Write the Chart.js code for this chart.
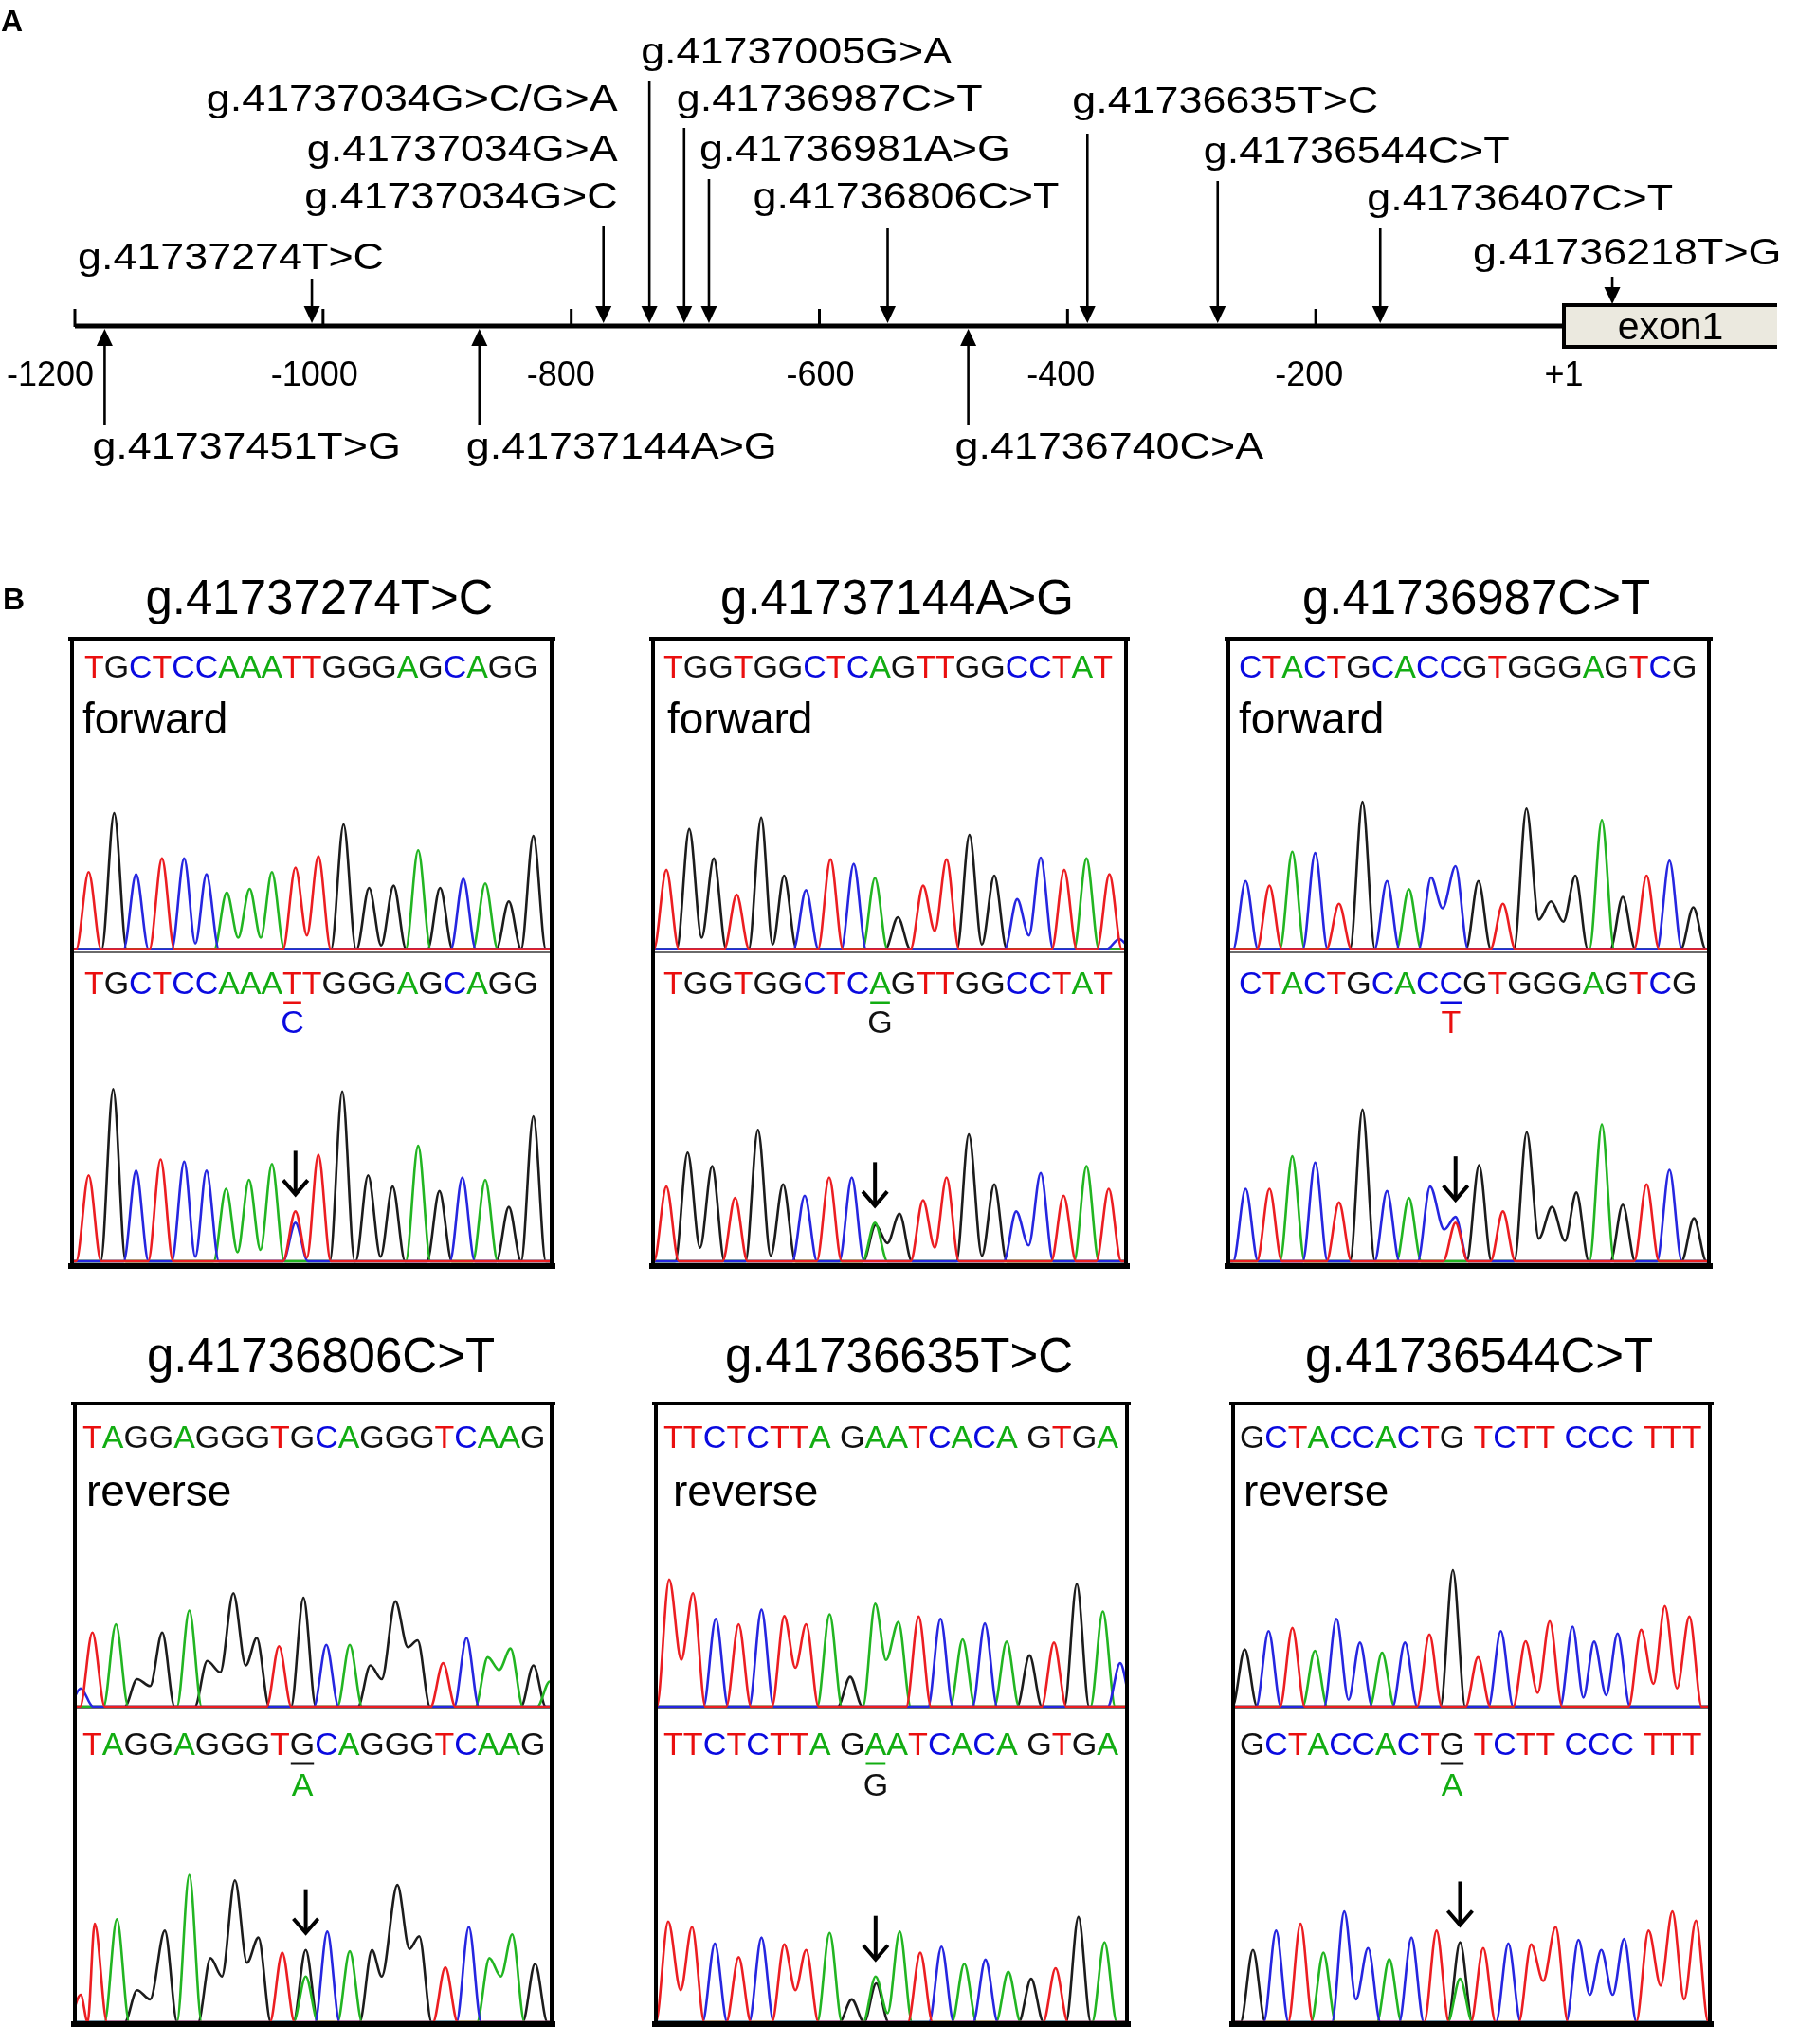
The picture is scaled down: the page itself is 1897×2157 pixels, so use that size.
<!DOCTYPE html>
<html><head><meta charset="utf-8">
<script src="https://cdn.jsdelivr.net/npm/chart.js@4.4.1/dist/chart.umd.min.js"></script>
<style>
html,body{margin:0;padding:0;background:#fff;}
#page{position:relative;width:1897px;height:2157px;overflow:hidden;background:#fff;}
canvas{position:absolute;}
</style></head><body><div id="page"></div>
<script>
// ================= DATA : panel A (promoter map) =================
const axisTicks = [-1200,-1000,-800,-600,-400,-200];
const axisTickLabels = ['-1200','-1000','-800','-600','-400','-200'];
const exonStart = 0;
const exonStartLabel = '+1';
const exonLabel = 'exon1';
const mutAbovePos = [-1009,-774,-737,-709,-689,-545,-384,-279,-148,39];
const mutAboveLabels = [['g.41737274T>C'],['g.41737034G>C/G>A','g.41737034G>A','g.41737034G>C'],['g.41737005G>A'],['g.41736987C>T'],['g.41736981A>G'],['g.41736806C>T'],['g.41736635T>C'],['g.41736544C>T'],['g.41736407C>T'],['g.41736218T>G']];
const mutBelowPos = [-1176,-874,-480];
const mutBelowLabels = ['g.41737451T>G','g.41737144A>G','g.41736740C>A'];

// ================= DATA : panel B (chromatograms) =================
const titles = ['g.41737274T>C','g.41737144A>G','g.41736987C>T','g.41736806C>T','g.41736635T>C','g.41736544C>T'];
const seqs = ['TGCTCCAAATTGGGAGCAGG','TGGTGGCTCAGTTGGCCTAT','CTACTGCACCGTGGGAGTCG','TAGGAGGGTGCAGGGTCAAG','TTCTCTTA GAATCACA GTGA','GCTACCACTG TCTT CCC TTT'];
const directions = ['forward','forward','forward','reverse','reverse','reverse'];
const mutIndex = [9,9,9,9,10,9];
const altBase = ['C','G','T','A','G','A'];
const hetX = [730,733,740,762,738,757];
const scanWindows = [[53,1507],[60,1495],[50,1510],[60,1510],[70,1503],[67,1517]];

// peaks: [scan position, base, signal]; valleys: [scan position, base, signal]
const p1TopPeaks = [[98,'T',170],[176,'G',300],[243,'C',165],[322,'T',200],[390,'C',200],[458,'C',165],[520,'A',125],[590,'A',133],[658,'A',170],[730,'T',180],[800,'T',205],[877,'G',275],[955,'G',135],[1030,'G',140],[1105,'A',218],[1172,'G',135],[1243,'C',155],[1310,'A',145],[1382,'G',105],[1457,'G',250]];
const p1TopValleys = [[424,'C',12],[555,'A',25],[624,'A',25],[765,'T',30],[992,'G',8]];
const p1BotPeaks = [[98,'T',190],[173,'G',380],[243,'C',200],[318,'T',225],[390,'C',220],[458,'C',200],[518,'A',160],[588,'A',180],[658,'A',215],[730,'T',110],[730,'C',85],[800,'T',235],[873,'G',375],[952,'G',190],[1027,'G',165],[1105,'A',255],[1170,'G',155],[1240,'C',185],[1310,'A',180],[1382,'G',120],[1457,'G',320]];
const p1BotValleys = [[424,'C',10],[553,'A',20],[623,'A',25],[765,'T',8],[990,'G',10]];

const p2TopPeaks = [[95,'T',175],[165,'G',265],[240,'G',200],[310,'T',120],[385,'G',290],[455,'G',162],[522,'C',130],[597,'T',198],[668,'C',188],[733,'A',157],[803,'G',70],[880,'T',140],[952,'T',198],[1022,'G',252],[1098,'G',162],[1168,'C',110],[1240,'C',202],[1312,'T',175],[1380,'A',200],[1450,'T',165],[1480,'C',22]];
const p2TopValleys = [[203,'G',25],[420,'G',10],[916,'T',40],[1060,'G',10],[1204,'C',30]];
const p2BotPeaks = [[95,'T',165],[160,'G',240],[235,'G',210],[305,'T',140],[375,'G',290],[452,'G',170],[518,'C',145],[593,'T',185],[662,'C',185],[733,'A',85],[735,'G',80],[808,'G',105],[880,'T',135],[952,'T',185],[1020,'G',280],[1098,'G',170],[1165,'C',110],[1240,'C',195],[1310,'T',145],[1380,'A',210],[1448,'T',160]];
const p2BotValleys = [[198,'G',30],[414,'G',12],[771,'G',40],[916,'T',30],[1060,'G',12],[1203,'C',35]];

const p3TopPeaks = [[97,'C',150],[170,'T',140],[240,'A',215],[310,'C',212],[383,'T',100],[455,'G',325],[530,'C',150],[597,'A',132],[665,'C',158],[740,'C',183],[810,'G',150],[885,'T',100],[957,'G',310],[1032,'G',105],[1107,'G',162],[1188,'A',285],[1252,'G',115],[1325,'T',162],[1395,'C',195],[1468,'G',92]];
const p3TopValleys = [[700,'C',90],[995,'G',65],[1070,'G',60]];
const p3BotPeaks = [[97,'C',160],[170,'T',160],[240,'A',232],[310,'C',218],[383,'T',130],[455,'G',335],[530,'C',155],[597,'A',140],[662,'C',165],[740,'C',98],[740,'T',85],[812,'G',212],[885,'T',110],[958,'G',285],[1035,'G',120],[1110,'G',152],[1188,'A',302],[1252,'G',125],[1325,'T',170],[1395,'C',202],[1470,'G',95]];
const p3BotValleys = [[705,'C',70],[995,'G',50],[1075,'G',45]];

const p4TopPeaks = [[72,'C',40],[108,'T',162],[180,'A',180],[245,'G',60],[322,'G',162],[405,'A',210],[460,'G',100],[540,'G',248],[612,'G',150],[680,'T',132],[755,'G',238],[825,'C',135],[897,'A',135],[960,'G',90],[1037,'G',230],[1105,'G',145],[1183,'T',95],[1255,'C',150],[1320,'A',108],[1390,'A',127],[1460,'G',90],[1510,'A',55]];
const p4TopValleys = [[285,'G',45],[500,'G',75],[578,'G',90],[995,'G',60],[1075,'G',130],[1355,'A',80]];
const p4BotPeaks = [[72,'T',60],[115,'T',215],[183,'A',225],[245,'G',70],[330,'G',200],[405,'A',322],[470,'G',140],[545,'G',310],[617,'G',185],[690,'T',152],[762,'G',158],[762,'A',100],[828,'C',198],[897,'A',155],[965,'G',158],[1043,'G',300],[1110,'G',188],[1190,'T',120],[1262,'C',208],[1325,'A',140],[1395,'A',192],[1465,'G',128]];
const p4BotValleys = [[285,'G',50],[505,'G',100],[582,'G',130],[995,'G',100],[1080,'G',160],[1360,'A',100]];

const p5TopPeaks = [[105,'T',278],[178,'T',248],[248,'C',192],[318,'T',180],[388,'C',212],[458,'T',198],[525,'T',180],[597,'A',202],[660,'G',65],[737,'A',225],[808,'A',185],[870,'T',197],[937,'C',192],[1005,'A',147],[1073,'C',182],[1140,'A',142],[1210,'G',112],[1285,'T',140],[1355,'G',268],[1435,'A',208],[1488,'C',95]];
const p5TopValleys = [[142,'T',102],[492,'T',85],[770,'A',102]];
const p5BotPeaks = [[102,'T',220],[175,'T',208],[245,'C',172],[318,'T',142],[388,'C',185],[458,'T',170],[525,'T',158],[597,'A',195],[665,'G',50],[738,'A',100],[740,'G',85],[812,'A',198],[875,'T',152],[940,'C',165],[1010,'A',128],[1075,'C',137],[1145,'A',110],[1215,'G',95],[1290,'T',118],[1360,'G',230],[1440,'A',175]];
const p5BotValleys = [[140,'T',70],[492,'T',70],[775,'A',20]];

const p6TopPeaks = [[97,'G',125],[170,'C',165],[243,'T',172],[312,'A',122],[378,'C',192],[450,'C',140],[518,'A',118],[588,'C',140],[663,'T',158],[735,'G',298],[812,'T',108],[882,'C',165],[958,'T',143],[1032,'T',187],[1102,'C',175],[1168,'C',142],[1240,'C',160],[1312,'T',168],[1385,'T',220],[1460,'T',197]];
const p6TopValleys = [[415,'C',15],[995,'T',30],[1135,'C',20],[1205,'C',25],[1350,'T',50],[1422,'T',40]];
const p6BotPeaks = [[122,'G',158],[193,'C',200],[268,'T',215],[338,'A',152],[402,'C',242],[475,'C',162],[540,'A',138],[608,'C',185],[685,'T',200],[757,'G',175],[757,'A',95],[828,'T',162],[905,'C',172],[975,'T',170],[1050,'T',208],[1120,'C',180],[1190,'C',158],[1260,'C',182],[1335,'T',200],[1408,'T',242],[1480,'T',222]];
const p6BotValleys = [[438,'C',50],[1012,'T',90],[1155,'C',60],[1225,'C',60],[1372,'T',80],[1444,'T',50]];

const topPeaks = [p1TopPeaks,p2TopPeaks,p3TopPeaks,p4TopPeaks,p5TopPeaks,p6TopPeaks];
const topValleys = [p1TopValleys,p2TopValleys,p3TopValleys,p4TopValleys,p5TopValleys,p6TopValleys];
const botPeaks = [p1BotPeaks,p2BotPeaks,p3BotPeaks,p4BotPeaks,p5BotPeaks,p6BotPeaks];
const botValleys = [p1BotValleys,p2BotValleys,p3BotValleys,p4BotValleys,p5BotValleys,p6BotValleys];

// ================= LAYOUT / STYLE =================
const FONT = '"Liberation Sans", Arial, Helvetica, sans-serif';
const SEQ_COLORS = {A:'#12ad12', C:'#0a0ae0', G:'#111111', T:'#ea0f0f'};
const TRACE_COLORS = {A:'#22b522', C:'#2626e0', G:'#1c1c1c', T:'#ec1e22'};
const PAGE_W = 1897, PAGE_H = 2157;
const AX_PX_LEFT = 79, AX_PX_RIGHT = 1650;   // pixel of -1200 and +1
const AXIS_Y = 344;
const tickLabelDx = [-26,-9,-11,1,-7,-7];
const aboveTop = [294,239,86,135,189,241,141,191,241,292];
const aboveLabelDx = [-247,15,-9,-8,-10,-142,-16,-15,-14,-147];
const aboveLabelBase = [[284],[117,170,220],[67],[117],[170],[220],[119],[172],[222],[279]];
const belowTail = 449, belowLabelBase = 484, belowLabelDx = [-13,-14,-14];

const boxL = [76,689,1296,79,692,1301], boxR = [582,1188,1803,582,1189,1804];
const seqL = [89,700,1307,87,700,1308], seqR = [565,1169,1788,573,1175,1793];
const dirL = [87,704,1307,91,710,1312];
const rowBoxTop = [674,1481], rowBoxBot = [1336,2136], rowSep = [1005,1803];
const rowBaseTop = [1001.5,1801], rowBaseBot = [1331,2134];
const rowTitleBase = [648,1448], rowSeqTopBase = [715,1528], rowDirBase = [774,1589];
const rowSeqBotBase = [1049,1852], rowCorrBase = [1090,1895], rowUnderY = [1058,1861];
const rowScale = [0.478,0.483];   // px per signal unit
const HW = 38;                    // peak half width (scan units)

function mkCanvas(x,y,w,h){
  const c=document.createElement('canvas');
  c.width=w;c.height=h;c.style.left=x+'px';c.style.top=y+'px';
  c.style.width=w+'px';c.style.height=h+'px';
  document.getElementById('page').appendChild(c);return c;
}

// ================= PANEL A =================
const pxPerBp = (AX_PX_RIGHT-AX_PX_LEFT)/(exonStart-axisTicks[0]);
const xMinA = axisTicks[0] - AX_PX_LEFT/pxPerBp;
const xMaxA = xMinA + PAGE_W/pxPerBp;

function stretchedText(ctx, txt, x, y, align, sx){
  ctx.save(); ctx.translate(x,y); ctx.scale(sx,1); ctx.textAlign=align; ctx.fillText(txt,0,0); ctx.restore();
}
function solidArrow(ctx, x, y0, tip){
  const d = Math.sign(tip-y0);
  ctx.lineWidth=2.6; ctx.beginPath(); ctx.moveTo(x,y0); ctx.lineTo(x,tip-d*12); ctx.stroke();
  ctx.beginPath(); ctx.moveTo(x,tip); ctx.lineTo(x-8.5,tip-d*18); ctx.lineTo(x+8.5,tip-d*18); ctx.closePath(); ctx.fill();
}

const panelAPlugin = {
  id:'panelA',
  afterDraw(chart){
    const ctx=chart.ctx, X=v=>chart.scales.x.getPixelForValue(v), Y=v=>chart.scales.y.getPixelForValue(v);
    ctx.save();
    ctx.fillStyle='#000'; ctx.strokeStyle='#000'; ctx.textBaseline='alphabetic';
    ctx.font='bold 32px '+FONT; ctx.textAlign='left';
    ctx.fillText('A',1,Y(33)); ctx.fillText('B',3,Y(643));
    const ay=Y(AXIS_Y);
    // exon box
    const ex0=X(exonStart), ex1=1875, eyT=Y(322), eyB=Y(366);
    ctx.fillStyle='#ebe9df'; ctx.fillRect(ex0,eyT,ex1-ex0,eyB-eyT);
    ctx.fillStyle='#000'; ctx.lineWidth=4;
    ctx.beginPath(); ctx.moveTo(ex1,eyT); ctx.lineTo(ex0,eyT); ctx.lineTo(ex0,eyB); ctx.lineTo(ex1,eyB); ctx.stroke();
    ctx.font='41px '+FONT; ctx.textAlign='center'; ctx.fillText(exonLabel,(ex0+ex1)/2,Y(358));
    // axis line and ticks
    ctx.lineWidth=5; ctx.beginPath(); ctx.moveTo(X(axisTicks[0]),ay); ctx.lineTo(ex0,ay); ctx.stroke();
    ctx.lineWidth=3;
    axisTicks.forEach(t=>{ctx.beginPath();ctx.moveTo(X(t),ay+1);ctx.lineTo(X(t),ay-18);ctx.stroke();});
    ctx.font='36px '+FONT; ctx.textAlign='center';
    axisTicks.forEach((t,i)=>ctx.fillText(axisTickLabels[i],X(t)+tickLabelDx[i],Y(407)));
    ctx.fillText(exonStartLabel,X(exonStart),Y(407));
    // mutations above
    ctx.font='39px '+FONT;
    mutAbovePos.forEach((p,i)=>{
      const px=X(p), tip = p>exonStart ? eyT-1 : ay-3;
      solidArrow(ctx,px,Y(aboveTop[i]),tip);
      const align = aboveLabelDx[i]>0 ? 'right':'left';
      mutAboveLabels[i].forEach((lab,j)=>stretchedText(ctx,lab,px+aboveLabelDx[i],Y(aboveLabelBase[i][j]),align,1.15));
    });
    // mutations below
    mutBelowPos.forEach((p,i)=>{
      const px=X(p);
      solidArrow(ctx,px,Y(belowTail),ay+3);
      stretchedText(ctx,mutBelowLabels[i],px+belowLabelDx[i],Y(belowLabelBase),'left',1.15);
    });
    ctx.restore();
  }
};

new Chart(mkCanvas(0,0,PAGE_W,PAGE_H),{
  type:'scatter',
  data:{datasets:[{data:mutAbovePos.concat(mutBelowPos).map(p=>({x:p,y:AXIS_Y})),pointRadius:0}]},
  options:{responsive:false,animation:false,devicePixelRatio:1,events:[],layout:{padding:0},
    plugins:{legend:{display:false},tooltip:{enabled:false}},
    scales:{x:{type:'linear',display:false,min:xMinA,max:xMaxA},
            y:{type:'linear',display:false,min:0,max:PAGE_H,reverse:true}}},
  plugins:[panelAPlugin]
});

// ================= PANEL B =================
function buildSeries(peaks, valleys, base, win){
  const keys = peaks.filter(p=>p[1]===base).map(p=>({x:p[0],y:p[2],pk:true}))
    .concat(valleys.filter(v=>v[1]===base).map(v=>({x:v[0],y:v[2],pk:false})))
    .sort((a,b)=>a.x-b.x);
  const pts=[{x:win[0]-60,y:0}];
  const push=(x,y)=>{ if(x>pts[pts.length-1].x) pts.push({x,y}); };
  for(let i=0;i<keys.length;i++){
    const k=keys[i], prev=keys[i-1], next=keys[i+1];
    if(k.pk){
      if(!(prev && prev.pk===false) && !(prev && prev.pk && k.x-prev.x<2*HW)) push(k.x-HW,0);
      push(k.x,k.y);
      if(!(next && next.pk===false)){
        if(next && next.x-k.x<2*HW) push((k.x+next.x)/2,0);
        else push(k.x+HW,0);
      }
    } else push(k.x,k.y);
  }
  push(win[1]+60,0);
  return pts;
}

function drawSeq(ctx, seq, left, right, base, size){
  ctx.font=size+'px '+FONT; ctx.textAlign='left';
  const s=(right-left)/ctx.measureText(seq).width;
  let x=left; const pos=[];
  for(const ch of seq){
    const cw=ctx.measureText(ch).width*s;
    if(ch!==' '){ctx.save();ctx.translate(x,base);ctx.scale(s,1);ctx.fillStyle=SEQ_COLORS[ch];ctx.fillText(ch,0,0);ctx.restore();}
    pos.push([x,x+cw]); x+=cw;
  }
  return pos;
}

const BASES=['T','C','A','G'];
for(let i=0;i<6;i++){
  const row=i<3?0:1, L=boxL[i], R=boxR[i];
  const cTop=row===0?585:1385, cBot=rowBoxBot[row]+10, cLeft=L-12;
  const cv=mkCanvas(cLeft,cTop,R-L+24,cBot-cTop);
  const At=rowBoxTop[row]+2, Ab=rowBoxBot[row]-2, H=Ab-At, yf=rowScale[row];
  const yTmin=(rowBaseTop[row]-Ab)/yf, yBmin=(rowBaseBot[row]-Ab)/yf;
  const win=scanWindows[i];
  const datasets=[];
  BASES.forEach(b=>{
    datasets.push({data:buildSeries(topPeaks[i],topValleys[i],b,win),yAxisID:'yT',borderColor:TRACE_COLORS[b]});
    datasets.push({data:buildSeries(botPeaks[i],botValleys[i],b,win),yAxisID:'yB',borderColor:TRACE_COLORS[b]});
  });
  datasets.forEach(d=>{d.borderWidth=2.6;d.pointRadius=0;d.fill=false;d.cubicInterpolationMode='monotone';});
  const hetMax=Math.max(...botPeaks[i].filter(p=>p[0]===hetX[i]).map(p=>p[2]));
  const plug={
    id:'panelB'+i,
    afterDatasetsDraw(chart){
      const ctx=chart.ctx;
      // het arrow (canvas coordinates from scales)
      const axp=chart.scales.x.getPixelForValue(hetX[i]);
      const tip=chart.scales.yB.getPixelForValue(hetMax)-18;
      ctx.save();
      ctx.strokeStyle='#000'; ctx.lineWidth=4; ctx.lineCap='butt';
      ctx.beginPath(); ctx.moveTo(axp,tip-46); ctx.lineTo(axp,tip-1); ctx.stroke();
      ctx.beginPath(); ctx.moveTo(axp-13,tip-15); ctx.lineTo(axp,tip); ctx.lineTo(axp+13,tip-15); ctx.stroke();
      ctx.restore();
      // page-coordinate text and frame
      ctx.save(); ctx.translate(-cLeft,-cTop);
      ctx.fillStyle='#000'; ctx.strokeStyle='#000'; ctx.textBaseline='alphabetic';
      ctx.font='51px '+FONT; ctx.textAlign='center';
      ctx.fillText(titles[i],(L+R)/2+8,rowTitleBase[row]);
      ctx.lineWidth=4; ctx.strokeRect(L,rowBoxTop[row],R-L,rowBoxBot[row]-rowBoxTop[row]);
      ctx.lineWidth=6; ctx.beginPath(); ctx.moveTo(L-4,rowBoxBot[row]); ctx.lineTo(R+4,rowBoxBot[row]); ctx.stroke();
      ctx.lineWidth=4; ctx.beginPath(); ctx.moveTo(L-4,rowBoxTop[row]); ctx.lineTo(R+4,rowBoxTop[row]); ctx.stroke();
      ctx.strokeStyle='#6a6a6a'; ctx.lineWidth=2;
      ctx.beginPath(); ctx.moveTo(L+2,rowSep[row]); ctx.lineTo(R-2,rowSep[row]); ctx.stroke();
      drawSeq(ctx,seqs[i],seqL[i],seqR[i],rowSeqTopBase[row],34);
      const pos=drawSeq(ctx,seqs[i],seqL[i],seqR[i],rowSeqBotBase[row],34);
      ctx.fillStyle='#000'; ctx.font='46px '+FONT; ctx.textAlign='left';
      ctx.fillText(directions[i],dirL[i],rowDirBase[row]);
      const mp=pos[mutIndex[i]], orig=seqs[i][mutIndex[i]];
      ctx.strokeStyle=SEQ_COLORS[orig]; ctx.lineWidth=3;
      ctx.beginPath(); ctx.moveTo(mp[0]+1,rowUnderY[row]); ctx.lineTo(mp[1]-1,rowUnderY[row]); ctx.stroke();
      ctx.fillStyle=SEQ_COLORS[altBase[i]]; ctx.font='34px '+FONT; ctx.textAlign='center';
      ctx.fillText(altBase[i],(mp[0]+mp[1])/2,rowCorrBase[row]);
      ctx.restore();
    }
  };
  new Chart(cv,{
    type:'line',
    data:{datasets},
    options:{responsive:false,animation:false,devicePixelRatio:1,events:[],
      layout:{padding:{left:14,right:14,top:At-cTop,bottom:cBot-Ab}},
      plugins:{legend:{display:false},tooltip:{enabled:false}},
      scales:{
        x:{type:'linear',display:false,min:win[0],max:win[1]},
        yT:{type:'linear',display:false,position:'left',min:yTmin,max:yTmin+H/yf},
        yB:{type:'linear',display:false,position:'left',min:yBmin,max:yBmin+H/yf}
      }},
    plugins:[plug]
  });
}
</script></body></html>
